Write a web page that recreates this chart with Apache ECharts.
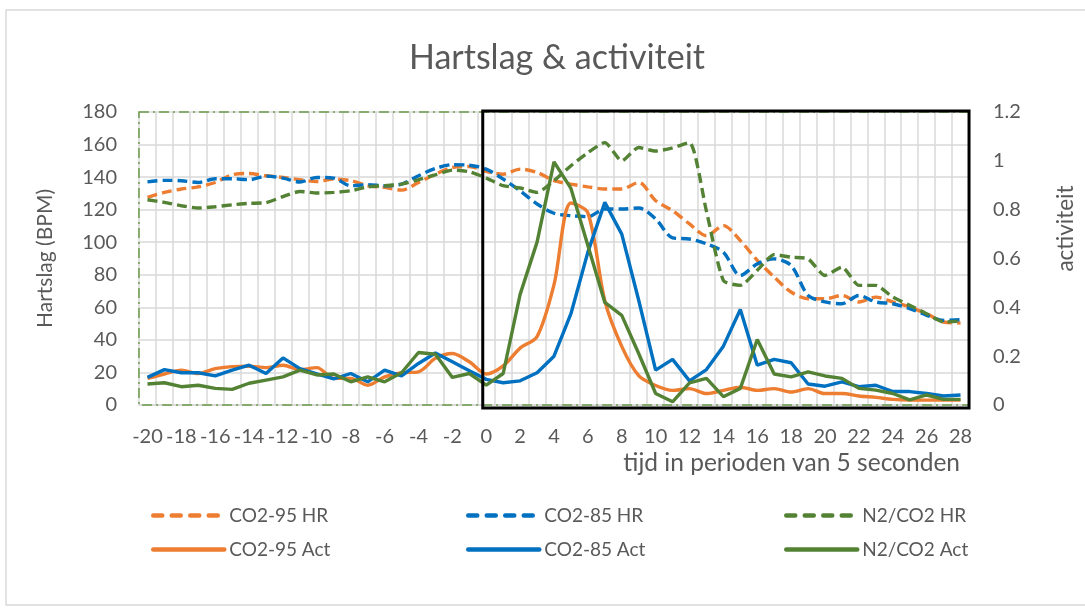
<!DOCTYPE html>
<html><head><meta charset="utf-8">
<script src="https://cdn.jsdelivr.net/npm/echarts@6/dist/echarts.min.js"></script>
<style>html,body{margin:0;padding:0;background:#fff}#c{width:1085px;height:610px}</style>
</head><body><div id="c"></div>
<script>
const categories = ['-20','-19','-18','-17','-16','-15','-14','-13','-12','-11','-10','-9','-8','-7','-6','-5','-4','-3','-2','-1',
  '0','1','2','3','4','5','6','7','8','9','10','11','12','13','14','15','16','17','18','19','20','21','22','23','24','25','26','27','28'];

const co2_95_hr = [127.6,130.6,132.7,134,136.7,141.4,142.2,140.8,139.8,138.4,137.3,138.8,137.8,134.7,133.7,132,136.7,141.8,145.9,146.5,
  143.5,141.8,144.9,142.9,137.8,135.7,134,132.7,132.7,136.7,125.5,119.4,111.2,104,110.2,101,88.8,78.6,69.4,65.3,65.3,67.3,63.3,66.3,63.3,60.2,56.1,51,50.4];
const co2_85_hr = [137.1,138,137.8,136.7,139,139,138.4,140.6,139.4,137,139.8,139.4,134.7,135.3,134.7,135.7,140.8,145.3,147.6,147.3,
  144.9,138.8,131.6,123.5,117.8,116.3,115.7,120.4,120.4,121,114.3,102.7,102,99,93.9,79.6,86.7,89.8,85.7,67.3,63.3,62.2,67.3,63.3,62.2,59.2,55.1,52,52.4];
const n2co2_hr = [126.1,124.5,122.4,121,121.8,123,123.9,124.3,128,131.2,130.2,130.6,131.6,134,134.7,135.7,138.4,141.4,144.3,143.3,
  139.4,134.7,133.3,130.6,137.8,147,155,161.2,150,158.2,156,158,161.2,119,76.5,73.5,82.7,92.4,90.8,89.8,79.6,84.7,73.5,73.5,66.3,61.2,56.1,51,51.6];

const co2_95_act = [0.109,0.127,0.143,0.129,0.149,0.157,0.159,0.153,0.163,0.145,0.153,0.109,0.109,0.081,0.115,0.132,0.136,0.191,0.211,0.177,
  0.127,0.16,0.233,0.28,0.493,0.827,0.787,0.427,0.24,0.12,0.08,0.06,0.067,0.047,0.06,0.073,0.06,0.067,0.053,0.067,0.047,0.047,0.037,0.031,0.023,0.02,0.02,0.02,0.02];
const co2_85_act = [0.113,0.145,0.132,0.132,0.119,0.143,0.163,0.129,0.193,0.149,0.127,0.107,0.129,0.095,0.143,0.119,0.17,0.213,0.177,0.14,
  0.105,0.091,0.099,0.132,0.2,0.374,0.626,0.83,0.7,0.429,0.143,0.187,0.099,0.145,0.241,0.391,0.163,0.187,0.173,0.086,0.077,0.095,0.075,0.081,0.055,0.055,0.047,0.037,0.041];
const n2co2_act = [0.086,0.091,0.075,0.081,0.068,0.064,0.089,0.102,0.115,0.143,0.123,0.127,0.095,0.115,0.095,0.132,0.215,0.208,0.113,0.129,
  0.081,0.129,0.453,0.667,0.996,0.887,0.653,0.42,0.367,0.211,0.047,0.013,0.091,0.109,0.034,0.068,0.268,0.127,0.115,0.136,0.119,0.109,0.068,0.061,0.047,0.021,0.041,0.023,0.023];

const seriesNames = ['CO2-95 HR','CO2-85 HR','N2/CO2 HR','CO2-95 Act','CO2-85 Act','N2/CO2 Act'];
const FONT = "Lato, 'Open Sans', sans-serif";
const TXT = '#595959';
const ORANGE = '#ED7D31', BLUE = '#0070C0', GREEN = '#548235';
const DASH = [10,5];

function mkSeries(name, data, color, axis, dashed, smooth){
  return {name, type:'line', data, yAxisIndex:axis, symbol:'none', smooth: smooth,
    lineStyle:{width:3.4, color, type: dashed ? DASH : 'solid'}, itemStyle:{color},
    emphasis:{disabled:true}};
}
function mkLegend(name, left, top, dashed){
  return {data:[name], left, top, padding:0, itemWidth:71, itemHeight:14,
    itemStyle:{opacity:0},
    lineStyle:{width:4.5, cap:'round', type: dashed ? [9,9.5] : 'solid'},
    textStyle:{fontFamily:FONT, fontSize:19, color:TXT}, selectedMode:false};
}

const chart = echarts.init(document.getElementById('c'), null, {renderer:'canvas'});
chart.setOption({
  animation:false,
  backgroundColor:'#fff',
  textStyle:{fontFamily:FONT},
  title:{text:'Hartslag & activiteit', left:552, top:36, textAlign:'center',
    textStyle:{fontFamily:FONT, fontSize:34, fontWeight:'normal', color:TXT}},
  grid:{left:139, right:114, top:112, bottom:205},
  legend:[
    mkLegend(seriesNames[0],151,506,true), mkLegend(seriesNames[1],466,506,true), mkLegend(seriesNames[2],784,506,true),
    mkLegend(seriesNames[3],151,540,false), mkLegend(seriesNames[4],466,540,false), mkLegend(seriesNames[5],784,540,false)
  ],
  xAxis:{type:'category', data:categories, boundaryGap:true,
    axisLine:{lineStyle:{color:'#D9D9D9', width:1.5}}, axisTick:{show:false},
    axisLabel:{interval:1, margin:22, fontSize:20, color:TXT, fontFamily:FONT},
    splitLine:{show:true, interval:0, lineStyle:{color:'#D9D9D9', width:1.5}},
    name:'tijd in perioden van 5 seconden', nameLocation:'end', nameGap:-9,
    nameTextStyle:{align:'right', verticalAlign:'top', padding:[46,0,0,0], fontSize:24.5, color:TXT, fontFamily:FONT}},
  yAxis:[
    {type:'value', min:0, max:180, interval:20, position:'left',
      axisLine:{show:false}, axisTick:{show:false},
      axisLabel:{margin:22, fontSize:20, color:TXT, fontFamily:FONT},
      splitLine:{show:true, lineStyle:{color:'#D9D9D9', width:1.5}},
      name:'Hartslag (BPM)', nameLocation:'middle', nameGap:83, nameRotate:90,
      nameTextStyle:{fontSize:21, color:TXT, fontFamily:FONT}},
    {type:'value', min:0, max:1.2, interval:0.2, position:'right',
      axisLine:{show:false}, axisTick:{show:false},
      axisLabel:{margin:24, fontSize:20, color:TXT, fontFamily:FONT},
      splitLine:{show:false},
      name:'activiteit', nameLocation:'middle', nameGap:85, nameRotate:90,
      nameTextStyle:{fontSize:22.5, color:TXT, fontFamily:FONT, padding:[0,0,0,60]}}
  ],
  series:[
    mkSeries(seriesNames[0], co2_95_hr, ORANGE, 0, true, 0.3),
    mkSeries(seriesNames[1], co2_85_hr, BLUE, 0, true, 0.3),
    mkSeries(seriesNames[2], n2co2_hr, GREEN, 0, true, 0.2),
    mkSeries(seriesNames[3], co2_95_act, ORANGE, 1, false, 0.3),
    mkSeries(seriesNames[4], co2_85_act, BLUE, 1, false, false),
    mkSeries(seriesNames[5], n2co2_act, GREEN, 1, false, false)
  ]
});

// annotation frames derived from the axes
const gx0 = chart.convertToPixel({xAxisIndex:0}, categories[0]) - 8.5;
const gx1 = chart.convertToPixel({xAxisIndex:0}, categories[categories.length-1]) + 8.5;
const gy0 = chart.convertToPixel({yAxisIndex:0}, 180);
const gy1 = chart.convertToPixel({yAxisIndex:0}, 0);
const zx = chart.convertToPixel({xAxisIndex:0}, '0') - 3.5;
chart.setOption({graphic:[
  {type:'rect', silent:true, z:-1, shape:{x:6, y:10, width:1100, height:595},
    style:{fill:null, stroke:'#D9D9D9', lineWidth:1.5}},
  {type:'rect', silent:true, z:50, shape:{x:gx0, y:gy0, width:gx1-gx0, height:gy1-gy0},
    style:{fill:null, stroke:'#6B9B4B', lineWidth:1.5, lineDash:[10,4,2,4]}},
  {type:'rect', silent:true, z:60, shape:{x:zx, y:gy0-1, width:gx1-zx, height:gy1-gy0+4},
    style:{fill:null, stroke:'#000', lineWidth:3}}
]});
</script>
</body></html>
